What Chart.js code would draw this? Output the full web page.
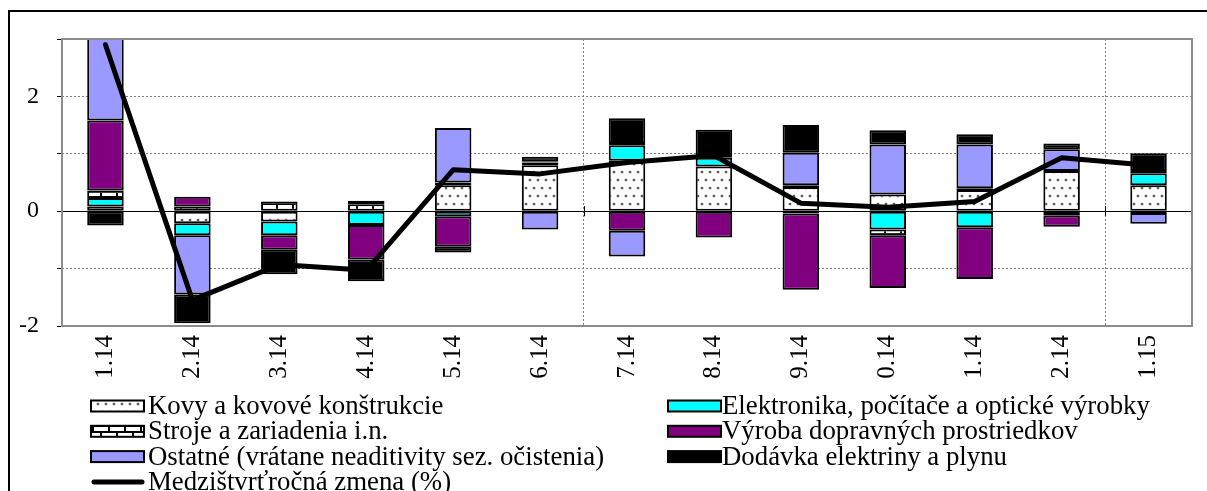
<!DOCTYPE html>
<html>
<head>
<meta charset="utf-8">
<script src="https://cdn.jsdelivr.net/npm/chart.js@4.4.1/dist/chart.umd.min.js"></script>
<style>
html,body{margin:0;padding:0;background:#fff;}
#wrap{position:relative;width:1207px;height:491px;}
</style>
</head>
<body>
<div id="wrap"><canvas id="c"></canvas></div>
<script>
const categories = ['1.14','2.14','3.14','4.14','5.14','6.14','7.14','8.14','9.14','0.14','1.14','2.14','1.15'];
const kovy       = [0.08, -0.21, -0.18, -0.01, 0.45, 0.80, 0.88, 0.78, 0.42, 0.29, 0.37, 0.70, 0.45];
const elektro    = [0.15, -0.21, -0.24, -0.23, -0.09, 0.05, 0.27, 0.15, -0.04, -0.32, -0.28, -0.07, 0.21];
const stroje     = [0.13, 0.08, 0.17, 0.12, 0.05, 0.02, 0.02, 0.00, 0.03, -0.10, 0.03, 0.00, 0.04];
const vyroba     = [1.22, 0.17, -0.25, -0.60, -0.53, 0.00, -0.34, -0.46, -1.33, -0.92, -0.90, -0.20, -0.03];
const ostatne    = [1.60, -1.03, 0.00, 0.06, 0.95, -0.32, -0.45, 0.05, 0.57, 0.87, 0.76, 0.38, -0.19];
const dodavka    = [-0.25, -0.50, -0.43, -0.38, -0.10, 0.08, 0.45, 0.44, 0.48, 0.25, 0.18, 0.10, 0.31];
const zmena      = [2.90, -1.55, -0.93, -1.03, 0.72, 0.65, 0.85, 0.97, 0.14, 0.07, 0.17, 0.93, 0.80];
const seriesNames = [
  'Kovy a kovové konštrukcie',
  'Elektronika, počítače a optické výrobky',
  'Stroje a zariadenia i.n.',
  'Výroba dopravných prostriedkov',
  'Ostatné (vrátane neaditivity sez. očistenia)',
  'Dodávka elektriny a plynu',
  'Medzištvrťročná zmena (%)'
];
const yTickLabels = {'-2':'-2','0':'0','2':'2'};

const FONT = "'Liberation Serif', 'Times New Roman', serif";
const cvs = document.getElementById('c');
const ctx0 = cvs.getContext('2d');

function dotPattern() {
  const c = document.createElement('canvas'); c.width = 8; c.height = 16;
  const x = c.getContext('2d');
  x.fillStyle = '#fff'; x.fillRect(0,0,8,16);
  [[2,4],[6,12]].forEach(p => {
    x.fillStyle = '#aaa'; x.beginPath(); x.arc(p[0], p[1], 1.6, 0, Math.PI*2); x.fill();
    x.fillStyle = '#333'; x.beginPath(); x.arc(p[0], p[1], 0.9, 0, Math.PI*2); x.fill();
  });
  return ctx0.createPattern(c, 'repeat');
}
function brickPattern() {
  const c = document.createElement('canvas'); c.width = 16; c.height = 12;
  const x = c.getContext('2d');
  x.fillStyle = '#fff'; x.fillRect(0,0,16,12);
  x.fillStyle = '#000';
  x.fillRect(0,5,16,2);
  x.fillRect(0,11,16,1);
  x.fillRect(0,0,16,1);
  x.fillRect(4,0,2,6);
  x.fillRect(12,6,2,6);
  return ctx0.createPattern(c, 'repeat');
}

const barStyle = (label, data, bg) => ({
  type: 'bar', label, data, backgroundColor: bg, borderColor: '#000', borderWidth: 2,
  borderSkipped: false, stack: 'bars', order: 1,
  categoryPercentage: 1.0, barPercentage: 0.42
});

const datasets = [
  barStyle(seriesNames[0], kovy, dotPattern()),
  barStyle(seriesNames[1], elektro, '#00FFFF'),
  barStyle(seriesNames[2], stroje, brickPattern()),
  barStyle(seriesNames[3], vyroba, '#800080'),
  barStyle(seriesNames[4], ostatne, '#9999FF'),
  barStyle(seriesNames[5], dodavka, '#000000'),
  {
    type: 'line', label: seriesNames[6], data: zmena, borderColor: '#000', backgroundColor: '#000',
    borderWidth: 5, pointRadius: 0, tension: 0, stack: 'line', order: 0,
    borderCapStyle: 'round', borderJoinStyle: 'round', fill: false
  }
];

const framePlugin = {
  id: 'frame',
  afterDraw(chart) {
    const {ctx, chartArea: a} = chart;
    ctx.save();
    ctx.strokeStyle = '#8c8c8c';
    ctx.lineWidth = 2;
    ctx.strokeRect(a.left, a.top, a.right - a.left, a.bottom - a.top);
    // small ticks on the zero line at the vertical grid lines
    const xs = chart.scales.x, ys = chart.scales.y;
    const y0 = ys.getPixelForValue(0);
    ctx.strokeStyle = '#000'; ctx.lineWidth = 1;
    [6, 12].forEach(i => {
      const px = Math.round((xs.getPixelForTick(i - 1) + xs.getPixelForTick(i)) / 2) + 0.5;
      ctx.beginPath(); ctx.moveTo(px, y0 - 5); ctx.lineTo(px, y0 + 5); ctx.stroke();
    });
    ctx.strokeStyle = '#000';
    ctx.lineWidth = 2;
    ctx.strokeRect(9, 11, chart.width + 20, chart.height + 20);
    ctx.restore();
  }
};

const legendPlugin = {
  id: 'customLegend',
  afterDraw(chart, args, opts) {
    const {ctx} = chart;
    ctx.save();
    ctx.font = opts.fontSize + 'px ' + FONT;
    ctx.textBaseline = 'middle';
    ctx.fillStyle = '#000';
    chart.data.datasets.forEach((ds, i) => {
      const col = i % 2, row = Math.floor(i / 2);
      const ix = opts.iconX[col], tx = opts.textX[col];
      const cy = opts.rowY + row * opts.rowH;
      if (ds.type === 'line') {
        ctx.strokeStyle = '#000'; ctx.lineWidth = 5; ctx.lineCap = 'round';
        ctx.beginPath(); ctx.moveTo(ix + 3, cy); ctx.lineTo(ix + opts.iconW - 2, cy); ctx.stroke();
      } else {
        ctx.fillStyle = ds.backgroundColor;
        ctx.fillRect(ix, cy - opts.iconH/2, opts.iconW, opts.iconH);
        ctx.strokeStyle = '#000'; ctx.lineWidth = 2;
        ctx.strokeRect(ix, cy - opts.iconH/2, opts.iconW, opts.iconH);
      }
      ctx.fillStyle = '#000';
      ctx.fillText(ds.label, tx, cy + 1);
    });
    ctx.restore();
  }
};

new Chart(cvs, {
  data: { labels: categories, datasets },
  options: {
    responsive: true, maintainAspectRatio: false, animation: false,
    layout: { padding: { top: 39, right: 15, left: 0, bottom: 0 } },
    plugins: {
      legend: { display: false }, tooltip: { enabled: false },
      customLegend: { fontSize: 26.8, iconX: [91, 668], textX: [148, 722], rowY: 406, rowH: 25.3, iconW: 53, iconH: 11 }
    },
    scales: {
      x: {
        stacked: true,
        afterFit(s) { s.height = 165; },
        grid: {
          offset: true, drawTicks: false, lineWidth: 1,
          color: c => (c.index === 6 || c.index === 12) ? '#808080' : 'rgba(0,0,0,0)'
        },
        border: { display: false, dash: [2, 2] },
        ticks: { color: '#000', font: { family: FONT, size: 25 }, minRotation: 90, maxRotation: 90, padding: 9, autoSkip: false }
      },
      y: {
        stacked: true, min: -2, max: 3,
        afterFit(s) { s.width = 62; },
        grid: {
          lineWidth: 1, tickLength: 5, tickColor: '#000', tickWidth: 1, tickBorderDash: [],
          color: c => (c.tick && c.tick.value === 0) ? '#000' : '#808080'
        },
        border: { display: false, dash: c => (c.tick && c.tick.value === 0) ? [] : [2, 2] },
        ticks: {
          stepSize: 1, color: '#000', padding: 18, font: { family: FONT, size: 24 },
          callback: v => (yTickLabels[String(v)] !== undefined ? yTickLabels[String(v)] : '')
        }
      }
    }
  },
  plugins: [framePlugin, legendPlugin]
});
</script>
</body>
</html>
